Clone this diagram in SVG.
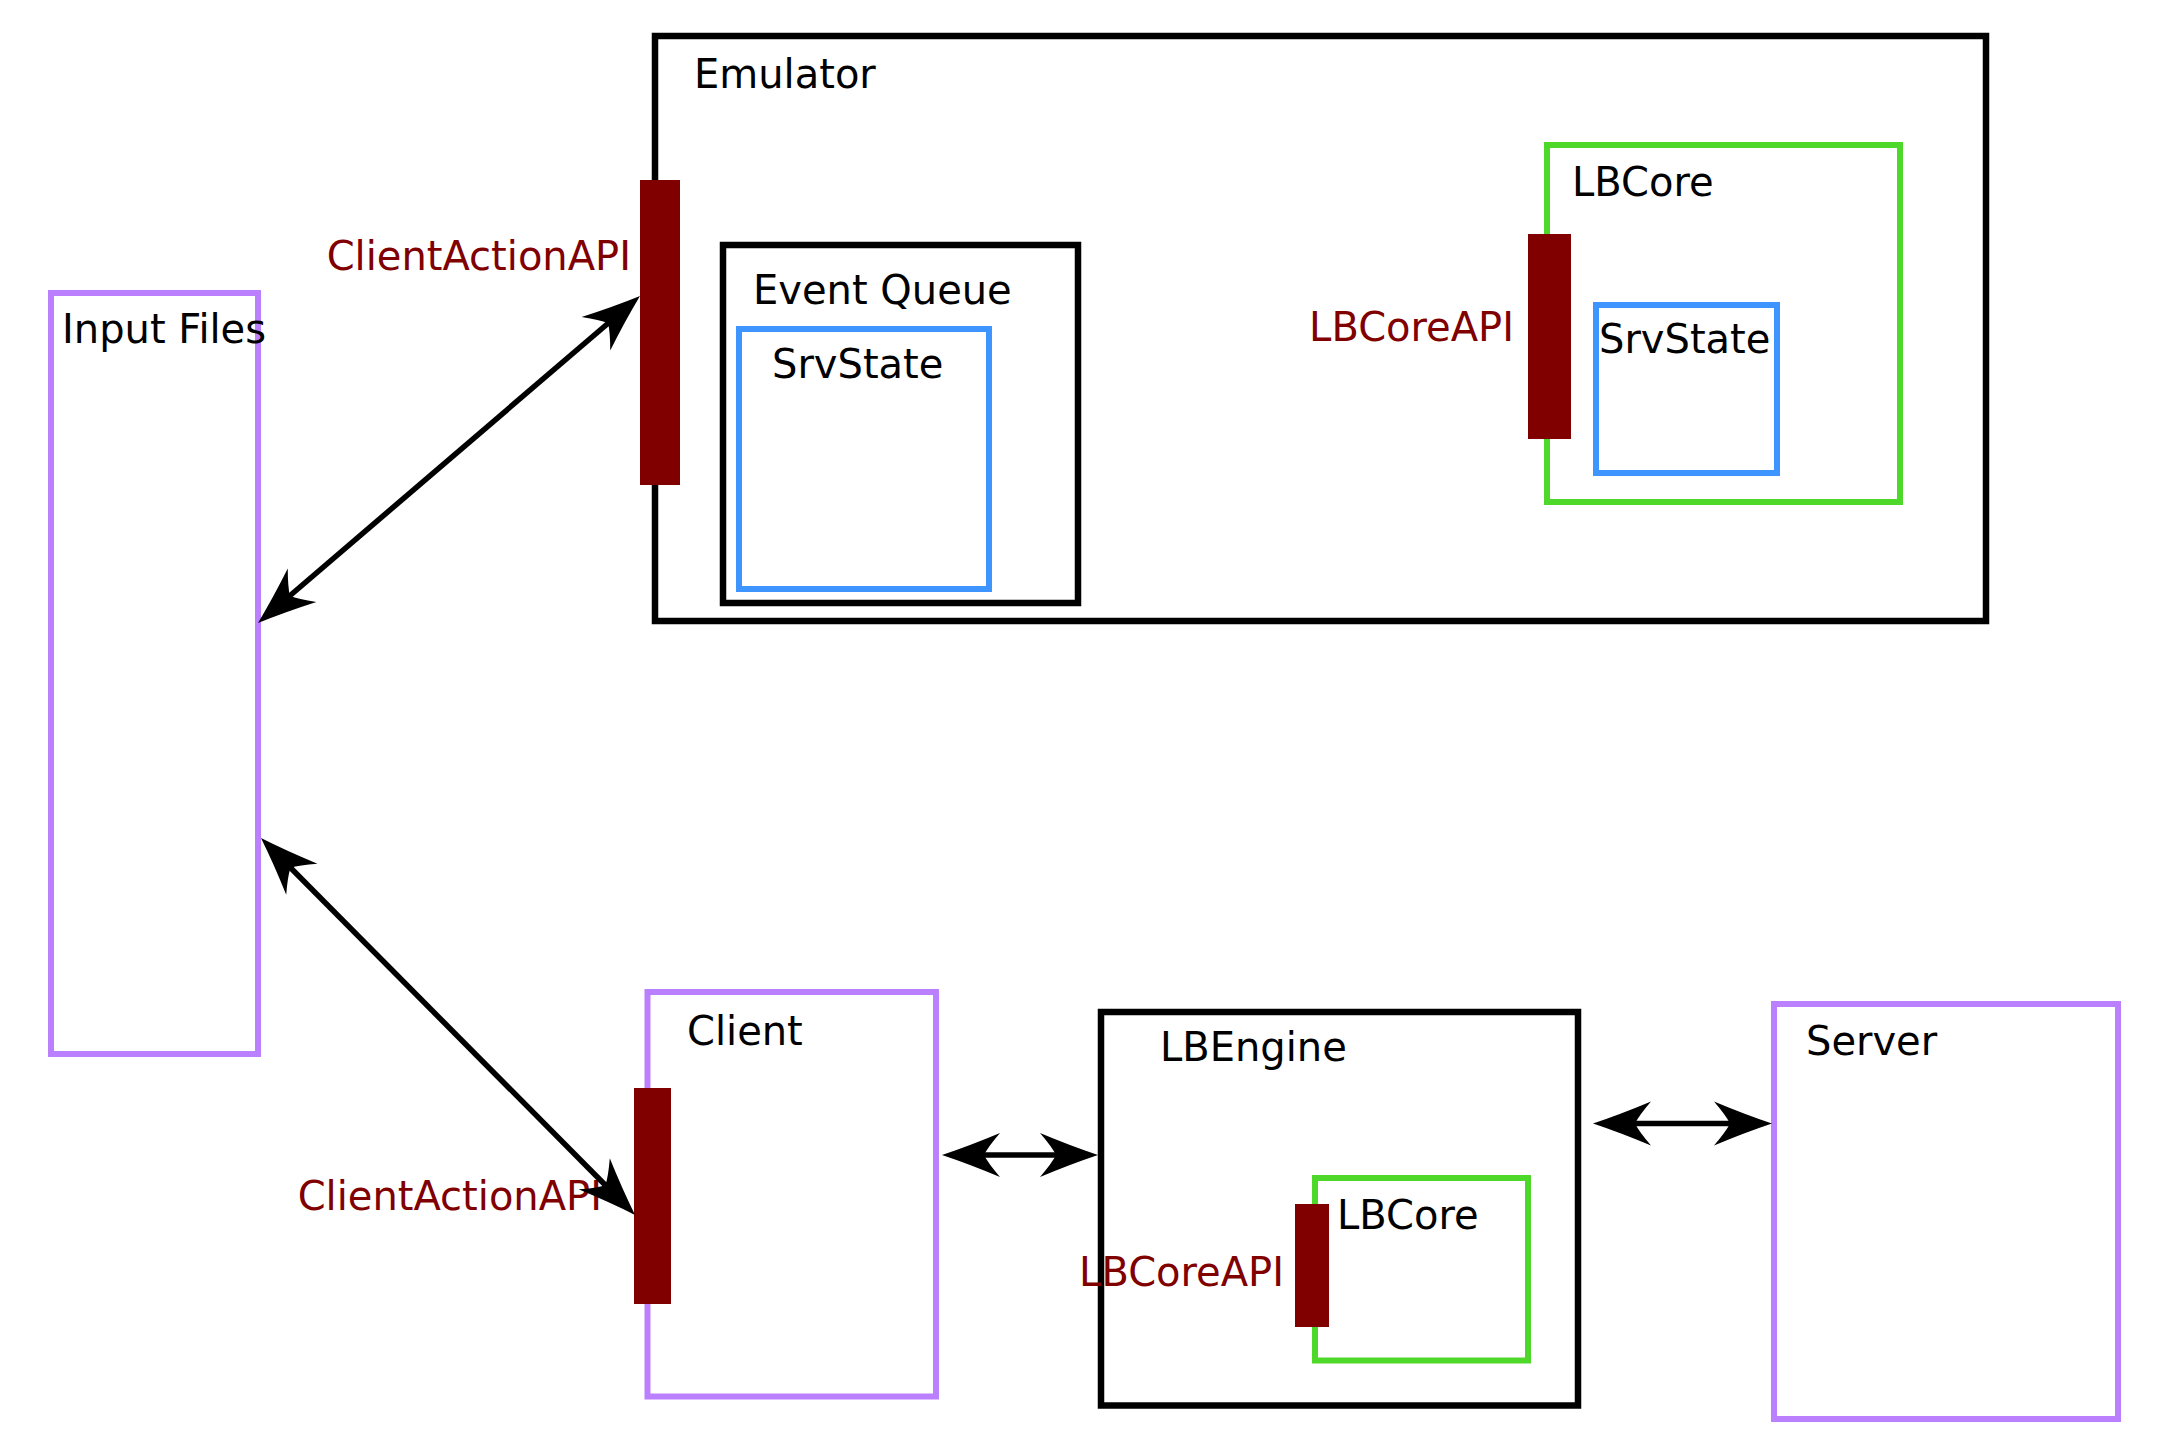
<svg xmlns="http://www.w3.org/2000/svg" width="2162" height="1456" viewBox="0 0 2162 1456">
<style>
text{font-family:"DejaVu Sans","Liberation Sans",sans-serif;font-size:40px;fill:#000}
.api{fill:#800000}
.blk{fill:none;stroke:#000;stroke-width:6.5}
.pur{fill:none;stroke:#bb80ff;stroke-width:6}
.grn{fill:none;stroke:#4ed82a;stroke-width:6}
.blu{fill:none;stroke:#3f95ff;stroke-width:6}
.bar{fill:#800000}
.conn{fill:none;stroke:#000;stroke-width:5.5;marker-start:url(#ah);marker-end:url(#ah)}
</style>
<defs>
<marker id="ah" markerUnits="userSpaceOnUse" orient="auto-start-reverse" refX="0" refY="0" markerWidth="60" markerHeight="45" overflow="visible">
<path d="M30,0 Q3,-9 -28,-22 Q-16,-8 -12,0 Q-16,8 -28,22 Q3,9 30,0 Z" fill="#000"/>
</marker>
</defs>
<rect width="2162" height="1456" fill="#fff"/>
<g id="emulator">
<rect class="blk" x="655" y="36" width="1331" height="585"/>
<text x="694" y="88">Emulator</text>
</g>
<g id="event-queue">
<rect class="blk" x="723" y="245" width="355" height="358"/>
<text x="753" y="304">Event Queue</text>
</g>
<g id="srvstate-queue">
<rect class="blu" x="739" y="329" width="250" height="260"/>
<text x="772" y="378">SrvState</text>
</g>
<g id="lbcore-emulator">
<rect class="grn" x="1547" y="145" width="353" height="357"/>
<text x="1572" y="196">LBCore</text>
</g>
<g id="srvstate-core">
<rect class="blu" x="1596" y="305" width="181" height="168"/>
<text x="1599" y="353">SrvState</text>
</g>
<g id="lbcoreapi-emulator">
<rect class="bar" x="1528" y="234" width="43" height="205"/>
<text class="api" x="1514" y="341" text-anchor="end">LBCoreAPI</text>
</g>
<g id="clientactionapi-emulator">
<rect class="bar" x="640" y="180" width="40" height="305"/>
<text class="api" x="631" y="270" text-anchor="end">ClientActionAPI</text>
</g>
<g id="input-files">
<rect class="pur" x="51" y="293" width="207" height="761"/>
<text x="62" y="343">Input Files</text>
</g>
<g id="client">
<rect class="pur" x="647.5" y="992" width="288.5" height="404.5"/>
<text x="687" y="1045">Client</text>
</g>
<g id="clientactionapi-client">
<rect class="bar" x="634" y="1088" width="37" height="216"/>
<text class="api" x="602" y="1210" text-anchor="end">ClientActionAPI</text>
</g>
<g id="lbengine">
<rect class="blk" x="1101" y="1012" width="477" height="393.5"/>
<text x="1160" y="1061">LBEngine</text>
</g>
<g id="lbcore-engine">
<rect class="grn" x="1315" y="1178" width="213" height="182.5"/>
<text x="1337" y="1229">LBCore</text>
</g>
<g id="lbcoreapi-engine">
<rect class="bar" x="1295" y="1204" width="34" height="123"/>
<text class="api" x="1284" y="1286" text-anchor="end">LBCoreAPI</text>
</g>
<g id="server">
<rect class="pur" x="1774" y="1004" width="344" height="415"/>
<text x="1806" y="1055">Server</text>
</g>
<g id="connectors">
<line class="conn" x1="280.8" y1="603.5" x2="617.2" y2="315.5"/>
<line class="conn" x1="282.1" y1="859.3" x2="613.9" y2="1193.7"/>
<line class="conn" x1="972" y1="1155" x2="1068" y2="1155"/>
<line class="conn" x1="1623" y1="1123.5" x2="1742" y2="1123.5"/>
</g>
</svg>
